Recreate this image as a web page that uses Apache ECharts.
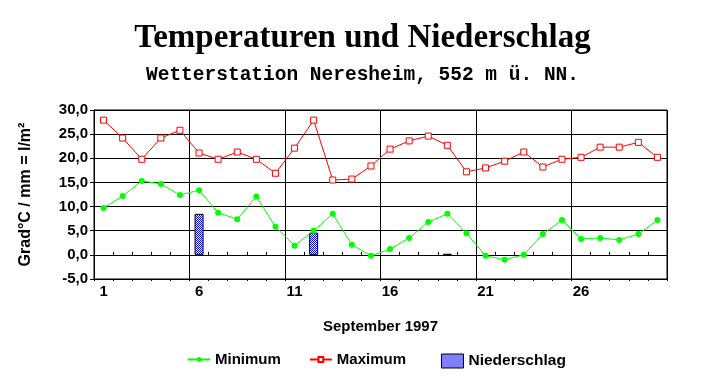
<!DOCTYPE html>
<html>
<head>
<meta charset="utf-8">
<script src="https://cdn.jsdelivr.net/npm/echarts@6/dist/echarts.min.js"></script>
<style>
html,body{margin:0;padding:0;background:#fff;}
#chart{width:725px;height:384px;}
</style>
</head>
<body>
<div id="chart"></div>
<script>
var days = ['1','2','3','4','5','6','7','8','9','10','11','12','13','14','15','16','17','18','19','20','21','22','23','24','25','26','27','28','29','30'];
var minimum = [9.7,12.2,15.3,14.7,12.4,13.4,8.7,7.4,12.1,5.8,1.9,5.0,8.5,2.1,-0.2,1.2,3.5,6.8,8.5,4.5,-0.2,-1.0,0.0,4.3,7.2,3.3,3.5,3.1,4.3,7.2];
var maximum = [27.9,24.2,19.8,24.2,25.8,21.1,19.8,21.3,19.8,16.9,22.1,27.9,15.5,15.7,18.4,21.9,23.6,24.6,22.7,17.2,18.0,19.4,21.3,18.2,19.8,20.2,22.3,22.3,23.3,20.2];
var niederschlag = [null,null,null,null,null,8.5,null,null,null,null,null,4.6,null,null,null,null,null,null,0.2,null,null,null,null,null,null,null,null,null,null,null];
var yMin = -5, yMax = 30, yStep = 5;

// dotted blue fill pattern for the precipitation bars
var pat = document.createElement('canvas');
pat.width = 2; pat.height = 2;
var pctx = pat.getContext('2d');
pctx.fillStyle = '#ffffff'; pctx.fillRect(0, 0, 2, 2);
pctx.fillStyle = '#0000ff'; pctx.fillRect(0, 0, 1, 1); pctx.fillRect(1, 1, 1, 1);
var barFill = {image: pat, repeat: 'repeat'};

var chart = echarts.init(document.getElementById('chart'), null, {renderer:'canvas'});
var sans = 'Liberation Sans, Arial, sans-serif';
var lbl = {color:'#000', fontFamily:sans, fontSize:15, fontWeight:'bold'};

chart.setOption({
  animation:false,
  backgroundColor:'#fff',
  title:[
    {text:'Temperaturen und Niederschlag', left:'center', top:17,
     textStyle:{fontFamily:'Liberation Serif, Times New Roman, serif', fontSize:33, fontWeight:'bold', color:'#000'}},
    {text:'Wetterstation Neresheim, 552 m ü. NN.', left:'center', top:60,
     textStyle:{fontFamily:'Liberation Mono, Courier New, monospace', fontSize:19.5, fontWeight:'bold', color:'#000'}}
  ],
  legend:[
    {data:['Minimum','Maximum'], left:182, top:347, itemWidth:22, itemHeight:6, itemGap:28,
     textStyle:lbl},
    {data:[{name:'Niederschlag', icon:'rect', itemStyle:{color:barFill, borderColor:'#000', borderWidth:1}}],
     left:436, top:348, itemWidth:22, itemHeight:14,
     textStyle:Object.assign({}, lbl, {fontSize:15.5})}
  ],
  grid:{left:94, right:58, top:110, bottom:105, show:true, borderColor:'#000', borderWidth:1, backgroundColor:'transparent'},
  xAxis:[
    {type:'category', data:days, boundaryGap:true, position:'bottom',
     axisLine:{show:false, onZero:false}, axisTick:{show:false},
     axisLabel:Object.assign({interval:4, margin:5}, lbl),
     splitLine:{show:true, interval:4, lineStyle:{color:'#000', width:1}},
     name:'September 1997', nameLocation:'middle', nameGap:40,
     nameTextStyle:lbl},
    {type:'category', data:days, boundaryGap:true, position:'bottom',
     axisLine:{show:true, onZero:true, lineStyle:{color:'#000', width:1}},
     axisTick:{show:true, inside:true, length:3, interval:0, lineStyle:{color:'#000'}},
     axisLabel:{show:false}, splitLine:{show:false}},
    {type:'category', data:days, boundaryGap:true, position:'bottom',
     axisLine:{show:false, onZero:true},
     axisTick:{show:true, inside:false, length:2, interval:0, lineStyle:{color:'#000'}},
     axisLabel:{show:false}, splitLine:{show:false}}
  ],
  yAxis:{
    type:'value', min:yMin, max:yMax, interval:yStep,
    axisLine:{show:true, lineStyle:{color:'#000', width:1}},
    axisTick:{show:true, length:4, lineStyle:{color:'#000'}},
    axisLabel:Object.assign({margin:6, formatter:function(v){return v.toFixed(1).replace('.',',');}}, lbl),
    splitLine:{show:true, lineStyle:{color:'#000', width:1}},
    name:'Grad°C / mm = l/m²', nameLocation:'middle', nameGap:60,
    nameTextStyle:{color:'#000', fontFamily:sans, fontSize:16, fontWeight:'bold'}
  },
  series:[
    {name:'Niederschlag', type:'bar', data:niederschlag, barWidth:9, z:1,
     itemStyle:{color:barFill, borderColor:'#000', borderWidth:1}},
    {name:'Minimum', type:'line', data:minimum, z:3,
     symbol:'circle', symbolSize:6, showAllSymbol:true,
     lineStyle:{color:'#00ff00', width:1}, itemStyle:{color:'#00ff00'}},
    {name:'Maximum', type:'line', data:maximum, z:3,
     symbol:'rect', symbolSize:6, showAllSymbol:true,
     lineStyle:{color:'#ff0000', width:1}, itemStyle:{color:'#ffffff', borderColor:'#ff0000', borderWidth:1}}
  ]
});
</script>
</body>
</html>
